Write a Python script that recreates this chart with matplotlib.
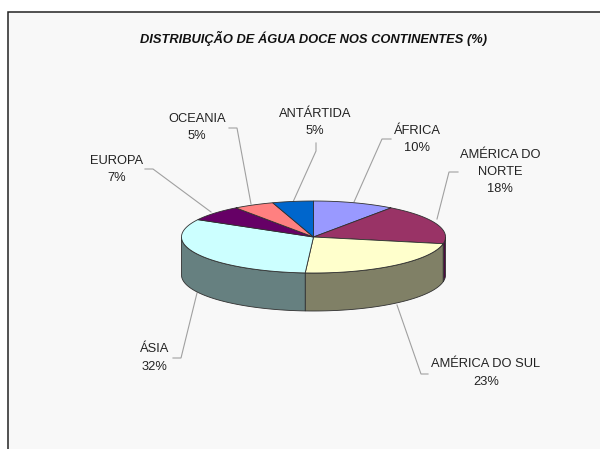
# -*- coding: utf-8 -*-

import numpy as np
import matplotlib
matplotlib.use("Agg")
import matplotlib.pyplot as plt
from matplotlib.patches import Polygon, Rectangle

plt.rcParams["font.family"] = ["Liberation Sans", "DejaVu Sans"]

# data, clockwise from 12 o'clock
continents = ["ÁFRICA", "AMÉRICA DO\nNORTE", "AMÉRICA DO SUL", "ÁSIA",
	"EUROPA", "OCEANIA", "ANTÁRTIDA"]
shares = [10, 18, 23, 32, 7, 5, 5]
top_colors = ["#9999FF", "#993366", "#FFFFCC", "#CCFFFF", "#660066", "#FF8080", "#0066CC"]
side_colors = ["#4D4D80", "#4D0A40", "#808066", "#668080", "#330033", "#804040", "#003366"]
title = "DISTRIBUIÇÃO DE ÁGUA DOCE NOS CONTINENTES (%)"

# label centre and leader line for each slice, in pixels
label_pos = [(417, 139.5), (500, 172), (486, 373), (155, 358), (117, 169.5), (197, 127.5), (315, 122.5)]
leaders = [
	[(391, 139), (382, 139), (354, 202)],
	[(458, 172), (449, 172), (437, 219)],
	[(428, 374), (421, 374), (397, 305)],
	[(173, 358), (181, 358), (197, 293)],
	[(145, 169), (153, 169), (211, 212)],
	[(229, 128), (237, 128), (251, 204)],
	[(316, 143), (316, 151), (293, 202)],
]

cx, cy = 313.5, 237
rx, ry = 132, 36
depth = 38
edge = "#303030"


def arc(a, b):
	"""Points on the top ellipse between clock angles a and b (degrees)."""
	t = np.radians(np.linspace(a, b, max(int(abs(b - a)) * 2, 2)))
	return np.column_stack((cx + rx * np.sin(t), cy - ry * np.cos(t)))


fig = plt.figure(figsize=(6, 4.49), dpi=100)
fig.patch.set_facecolor("white")
ax = fig.add_axes([0, 0, 1, 1])
ax.set_xlim(0, 600)
ax.set_ylim(449, 0)
ax.axis("off")

ax.add_patch(Rectangle((8, 12), 600, 450, facecolor="#F8F8F8", edgecolor="#222222", lw=1.1))

ends = np.cumsum(shares) * 3.6
starts = np.concatenate(([0], ends[:-1]))

# side wall, only the part facing the viewer
for a, b, c in zip(starts, ends, side_colors):
	lo, hi = max(a, 90), min(b, 270)
	if lo < hi:
		pts = arc(lo, hi)
		wall = np.vstack((pts, pts[::-1] + [0, depth]))
		ax.add_patch(Polygon(wall, closed=True, facecolor=c, edgecolor=edge, lw=0.6, zorder=2))

# top face
for a, b, c in zip(starts, ends, top_colors):
	pts = np.vstack(([cx, cy], arc(a, b)))
	ax.add_patch(Polygon(pts, closed=True, facecolor=c, edgecolor=edge, lw=0.6, zorder=3))

for line in leaders:
	xs, ys = zip(*line)
	ax.plot(xs, ys, color="#A0A0A0", lw=0.8, zorder=1, solid_joinstyle="miter")

for name, share, pos in zip(continents, shares, label_pos):
	ax.text(pos[0], pos[1], "%s\n%d%%" % (name, share), ha="center", va="center",
		fontsize=9.3, color="#222222", linespacing=1.6)

ax.text(313, 38, title, ha="center", va="center", fontsize=9.25, color="#111111",
	fontweight="bold", fontstyle="italic")

fig.savefig("out.png", dpi=100)
